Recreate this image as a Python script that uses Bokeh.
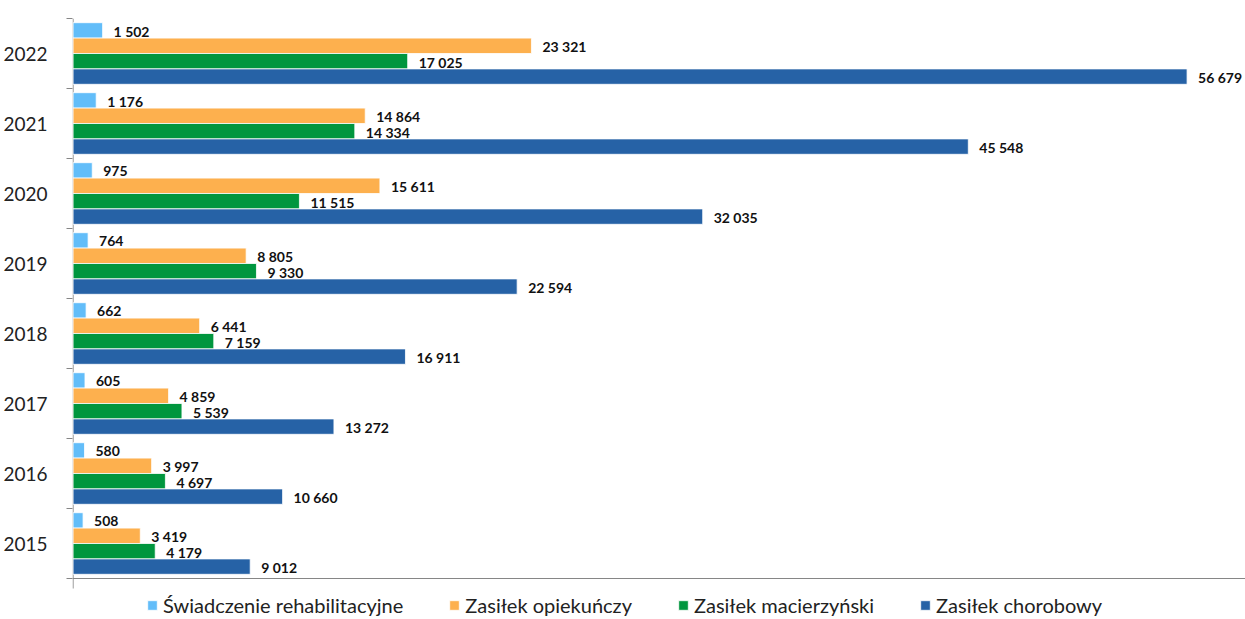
from bokeh.plotting import figure
from bokeh.models import (ColumnDataSource, LabelSet, Legend, LegendItem, FixedTicker,
                          LinearAxis, Range1d, Span)
from bokeh.transform import dodge
from bokeh.core.properties import value
from bokeh.embed import file_html
from bokeh.resources import INLINE

years = ["2015", "2016", "2017", "2018", "2019", "2020", "2021", "2022"]
rehab = [508, 580, 605, 662, 764, 975, 1176, 1502]
opiek = [3419, 3997, 4859, 6441, 8805, 15611, 14864, 23321]
macierz = [4179, 4697, 5539, 7159, 9330, 11515, 14334, 17025]
chorob = [9012, 10660, 13272, 16911, 22594, 32035, 45548, 56679]

series = [
    ("Świadczenie rehabilitacyjne", rehab, "#62BDF9", 0.33),
    ("Zasiłek opiekuńczy", opiek, "#FDB04E", 0.11),
    ("Zasiłek macierzyński", macierz, "#00963E", -0.11),
    ("Zasiłek chorobowy", chorob, "#2662A6", -0.33),
]

FONT = "Lato"
AX = "#868686"
n = len(years)
ycenters = [i + 0.5 for i in range(n)]

p = figure(width=1245, height=617, output_backend="svg", toolbar_location=None,
           x_range=Range1d(-30, 59652), y_range=Range1d(-0.557, n),
           x_axis_location=None, y_axis_location=None,
           min_border_left=72, min_border_top=18, min_border_right=0,
           min_border_bottom=0)
p.outline_line_color = None
p.xgrid.visible = False
p.ygrid.visible = False
p.background_fill_color = "white"

yaxis = LinearAxis(ticker=FixedTicker(ticks=ycenters, minor_ticks=list(range(n + 1))),
                   major_label_overrides={c: y for c, y in zip(ycenters, years)})
yaxis.axis_line_color = None
yaxis.major_tick_line_color = None
yaxis.major_tick_out = 0
yaxis.major_tick_in = 0
yaxis.minor_tick_line_color = AX
yaxis.minor_tick_out = 6
yaxis.minor_tick_in = 0
yaxis.major_label_standoff = 19
yaxis.major_label_text_font = FONT
yaxis.major_label_text_font_size = "19px"
yaxis.major_label_text_color = "#222222"
p.add_layout(yaxis, "left")

# category (vertical) axis line, extended below zero by the value-axis tick
p.segment(x0=[0], y0=[-0.143], x1=[0], y1=[n], line_color=AX, line_width=1)
# value (horizontal) axis line
p.add_layout(Span(location=0, dimension="width", line_color=AX, line_width=1))

items = []
for name, vals, color, off in series:
    src = ColumnDataSource(dict(y=ycenters, v=vals,
                                lab=[f"{v:,}".replace(",", " ") for v in vals]))
    r = p.hbar(y=dodge("y", off), right="v", left=0, height=0.22, source=src,
               fill_color=color, line_color="white", line_width=0.8)
    items.append(LegendItem(label=name, renderers=[r]))
    p.add_layout(LabelSet(x="v", y=dodge("y", off), text="lab", source=src,
                          x_offset=11, y_offset=-1, text_baseline="middle", text_align="left",
                          text_font=value(FONT), text_font_style="bold",
                          text_font_size="14px", text_color="#111111"))

legend = Legend(items=items, orientation="horizontal", location=(74, 0),
                label_text_font=FONT, label_text_font_size="20px",
                label_text_color="#222222",
                glyph_width=12, glyph_height=12, label_standoff=5, spacing=45,
                border_line_color=None, background_fill_alpha=0,
                padding=0, margin=0)
p.add_layout(legend, "center")

open("out.html", "w").write(file_html(p, INLINE))
